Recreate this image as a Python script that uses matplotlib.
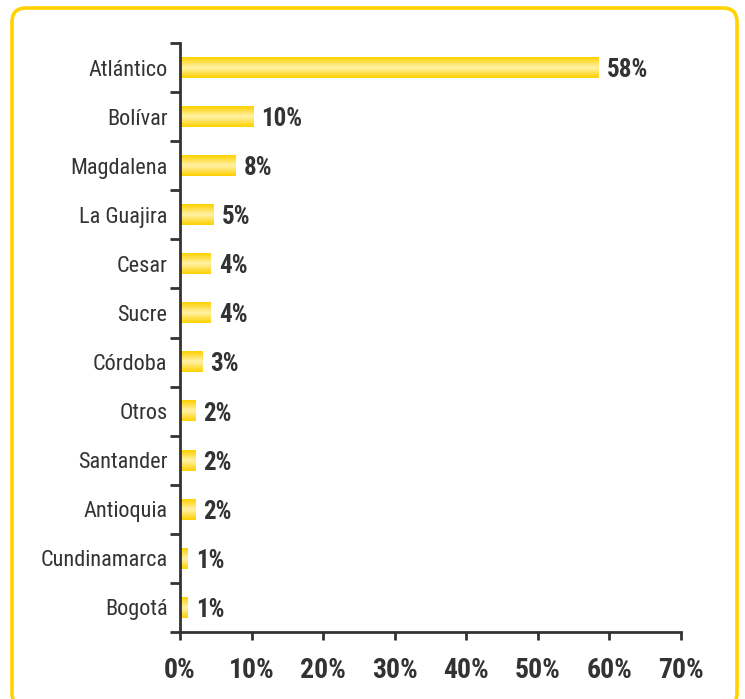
import matplotlib
matplotlib.use("Agg")
import matplotlib.pyplot as plt
import numpy as np
from matplotlib.patches import FancyBboxPatch
from matplotlib.colors import LinearSegmentedColormap
from matplotlib import font_manager
from matplotlib.font_manager import FontProperties
import os

categories = ["Atlántico", "Bolívar", "Magdalena", "La Guajira", "Cesar", "Sucre",
              "Córdoba", "Otros", "Santander", "Antioquia", "Cundinamarca", "Bogotá"]
values = [58.5, 10.2, 7.8, 4.7, 4.3, 4.3, 3.1, 2.2, 2.2, 2.1, 1.1, 1.1]
labels = ["58%", "10%", "8%", "5%", "4%", "4%", "3%", "2%", "2%", "2%", "1%", "1%"]
xticks = [0, 10, 20, 30, 40, 50, 60, 70]
xticklabels = ["0%", "10%", "20%", "30%", "40%", "50%", "60%", "70%"]

# find condensed fonts
files = [f.fname for f in font_manager.fontManager.ttflist]
def find(cands):
    for c in cands:
        for f in files:
            if os.path.basename(f).lower() == c.lower():
                return f
    return None
reg_file = find(["RobotoCondensed-Regular.ttf", "LiberationSansNarrow-Regular.ttf",
                 "DejaVuSansCondensed.ttf", "OpenSans_Condensed-Regular.ttf"])
bold_file = find(["RobotoCondensed-Bold.ttf", "LiberationSansNarrow-Bold.ttf",
                  "DejaVuSansCondensed-Bold.ttf", "OpenSans_Condensed-Bold.ttf"])
fp_reg = FontProperties(fname=reg_file) if reg_file else FontProperties(family="DejaVu Sans", stretch="condensed")
fp_bold = FontProperties(fname=bold_file) if bold_file else FontProperties(family="DejaVu Sans", weight="bold", stretch="condensed")

W, H = 745, 699
fig = plt.figure(figsize=(W / 100, H / 100), dpi=100)
ax = fig.add_axes([180 / W, 1 - 632 / H, (681 - 180) / W, (632 - 43) / H])

# border (in inches)
border = FancyBboxPatch((0.12, -0.08), 7.25, (H - 8 + 8) / 100,
                        boxstyle="round,pad=0,rounding_size=0.14",
                        transform=fig.dpi_scale_trans, fill=False,
                        edgecolor="#FFD200", linewidth=2.6, clip_on=False)
fig.patches.append(border)

cmap = LinearSegmentedColormap.from_list("yg", ["#FFD000", "#FFF2A8", "#FFD000"])
grad = np.linspace(0, 1, 64).reshape(-1, 1)
n = len(categories)
ypos = np.arange(n)
bh = 0.42
for y, v, lab in zip(ypos, values, labels):
    ax.imshow(grad, cmap=cmap, aspect="auto", extent=(0, v, y + bh / 2, y - bh / 2),
              interpolation="bicubic", zorder=2)
    t = ax.text(v + 1.1, y + 0.05, lab, va="center", ha="left", color="#333333")
    t.set_fontproperties(fp_bold)
    t.set_fontsize(18)

ax.set_xlim(0, 70)
ax.set_ylim(n - 0.5, -0.5)
ax.set_yticks(ypos)
ax.set_yticklabels(categories, color="#333333")
for lbl in ax.get_yticklabels():
    lbl.set_fontproperties(fp_reg)
    lbl.set_fontsize(16)
ax.tick_params(axis="y", which="major", length=0, pad=9)
ax.set_yticks(np.arange(-0.5, n, 1), minor=True)
ax.tick_params(axis="y", which="minor", length=7, width=2, color="#333333", direction="out")
ax.set_xticks(xticks)
ax.set_xticklabels(xticklabels, color="#333333")
for lbl in ax.get_xticklabels():
    lbl.set_fontproperties(fp_bold)
    lbl.set_fontsize(20)
ax.tick_params(axis="x", length=6, width=2, color="#333333", pad=12)
for s in ["top", "right"]:
    ax.spines[s].set_visible(False)
for s in ["left", "bottom"]:
    ax.spines[s].set_linewidth(2)
    ax.spines[s].set_color("#333333")

fig.savefig("out.png", dpi=100)
